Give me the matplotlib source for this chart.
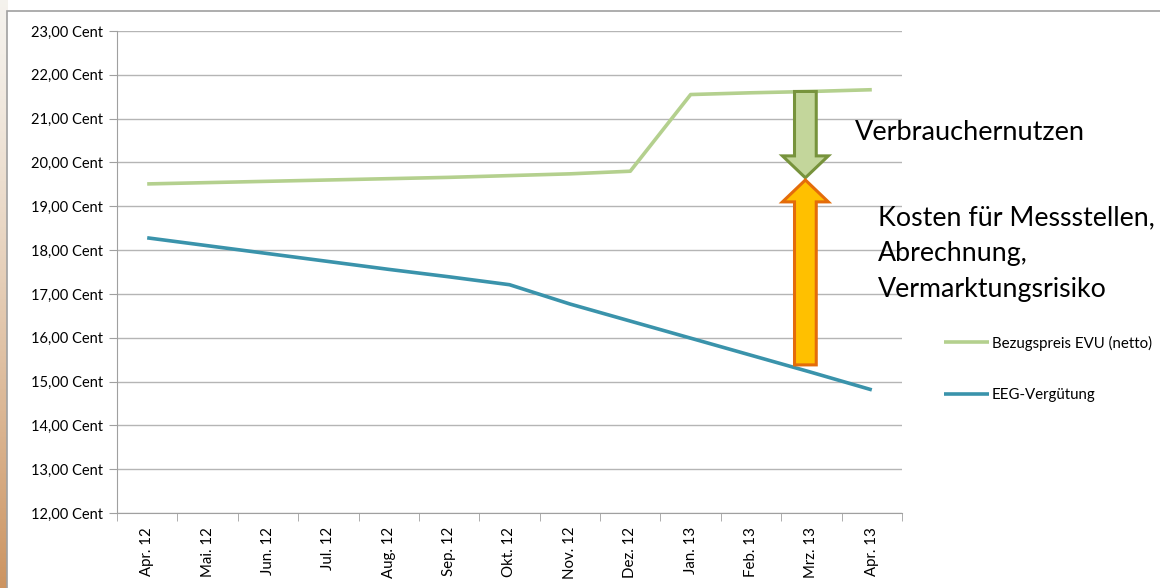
import numpy as np
import matplotlib.pyplot as plt
from matplotlib.patches import FancyArrow, Rectangle

plt.rcParams['font.family'] = ['Lato', 'DejaVu Sans']

months = ["Apr. 12", "Mai. 12", "Jun. 12", "Jul. 12", "Aug. 12", "Sep. 12",
          "Okt. 12", "Nov. 12", "Dez. 12", "Jan. 13", "Feb. 13", "Mrz. 13", "Apr. 13"]
bezugspreis = [19.51, 19.54, 19.57, 19.60, 19.63, 19.66, 19.70, 19.74, 19.80,
               21.55, 21.59, 21.62, 21.66]
eeg = [18.28, 18.10, 17.92, 17.74, 17.56, 17.39, 17.21, 16.77, 16.38,
       15.99, 15.60, 15.21, 14.81]

fig = plt.figure(figsize=(11.6, 5.88), dpi=100)

# slide background: gradient strip on the left and frame
bg = fig.add_axes([0, 0, 1, 1], zorder=-10)
bg.set_xlim(0, 1160)
bg.set_ylim(588, 0)
bg.axis('off')
grad = np.linspace(0, 1, 256).reshape(-1, 1)
top = np.array([0.96, 0.95, 0.93])
bot = np.array([0.80, 0.58, 0.38])
img = top + (bot - top) * (grad ** 1.3)[:, :, None]
bg.imshow(img, extent=[0, 8, 588, 0], aspect='auto')
bg.add_patch(Rectangle((7, 11), 1160, 600, facecolor='white', edgecolor='#a0a0a0', lw=1.2))

ax = fig.add_axes([117 / 1160, 1 - 513 / 588, 785 / 1160, 482 / 588])
x = np.arange(len(months))
ax.plot(x, bezugspreis, color='#b4d08e', lw=2.6, label='Bezugspreis EVU (netto)', solid_capstyle='butt')
ax.plot(x, eeg, color='#3a93ab', lw=2.6, label='EEG-Vergütung', solid_capstyle='butt')

ax.set_xlim(-0.5, len(months) - 0.5)
ax.set_ylim(12, 23)
ax.set_yticks(np.arange(12, 24, 1))
ax.set_yticklabels([f"{v},00 Cent" for v in range(12, 24)], fontsize=10.5)
ax.set_xticks(x)
ax.set_xticklabels(months, rotation=90, fontsize=10.8)
ax.set_xticks(np.arange(-0.5, len(months)), minor=True)
ax.tick_params(axis='x', which='major', length=0, pad=10)
ax.tick_params(axis='x', which='minor', length=6, color='#a0a0a0')
ax.tick_params(axis='y', length=6, color='#a0a0a0', pad=4)
ax.grid(axis='y', color='#b5b5b5', lw=1)
ax.set_axisbelow(True)
for s in ['top', 'right']:
    ax.spines[s].set_visible(False)
ax.spines['left'].set_color('#a0a0a0')
ax.spines['bottom'].set_color('#a0a0a0')

# arrows
ax_x = 10.9
ax.add_patch(FancyArrow(ax_x, 21.62, 0, 19.65 - 21.62, width=0.36, head_width=0.76,
                        head_length=0.5, length_includes_head=True,
                        facecolor='#c3d69b', edgecolor='#77933c', lw=2.2, zorder=5))
ax.add_patch(FancyArrow(ax_x, 15.38, 0, 19.60 - 15.38, width=0.36, head_width=0.76,
                        head_length=0.5, length_includes_head=True,
                        facecolor='#ffc000', edgecolor='#e46c0a', lw=2.2, zorder=5))

fig.text(855 / 1160, 1 - 132 / 588, "Verbrauchernutzen", fontsize=19.5, va='center', ha='left')
fig.text(878 / 1160, 1 - 254 / 588, "Kosten für Messstellen,\nAbrechnung,\nVermarktungsrisiko",
         fontsize=19.3, va='center', ha='left', linespacing=1.55)

fig.legend(loc='upper left', bbox_to_anchor=(930 / 1160, 1 - 322 / 588), frameon=False,
           fontsize=10.8, handlelength=3.0, handletextpad=0.2, labelspacing=2.5)

fig.savefig('out.png', dpi=100)
